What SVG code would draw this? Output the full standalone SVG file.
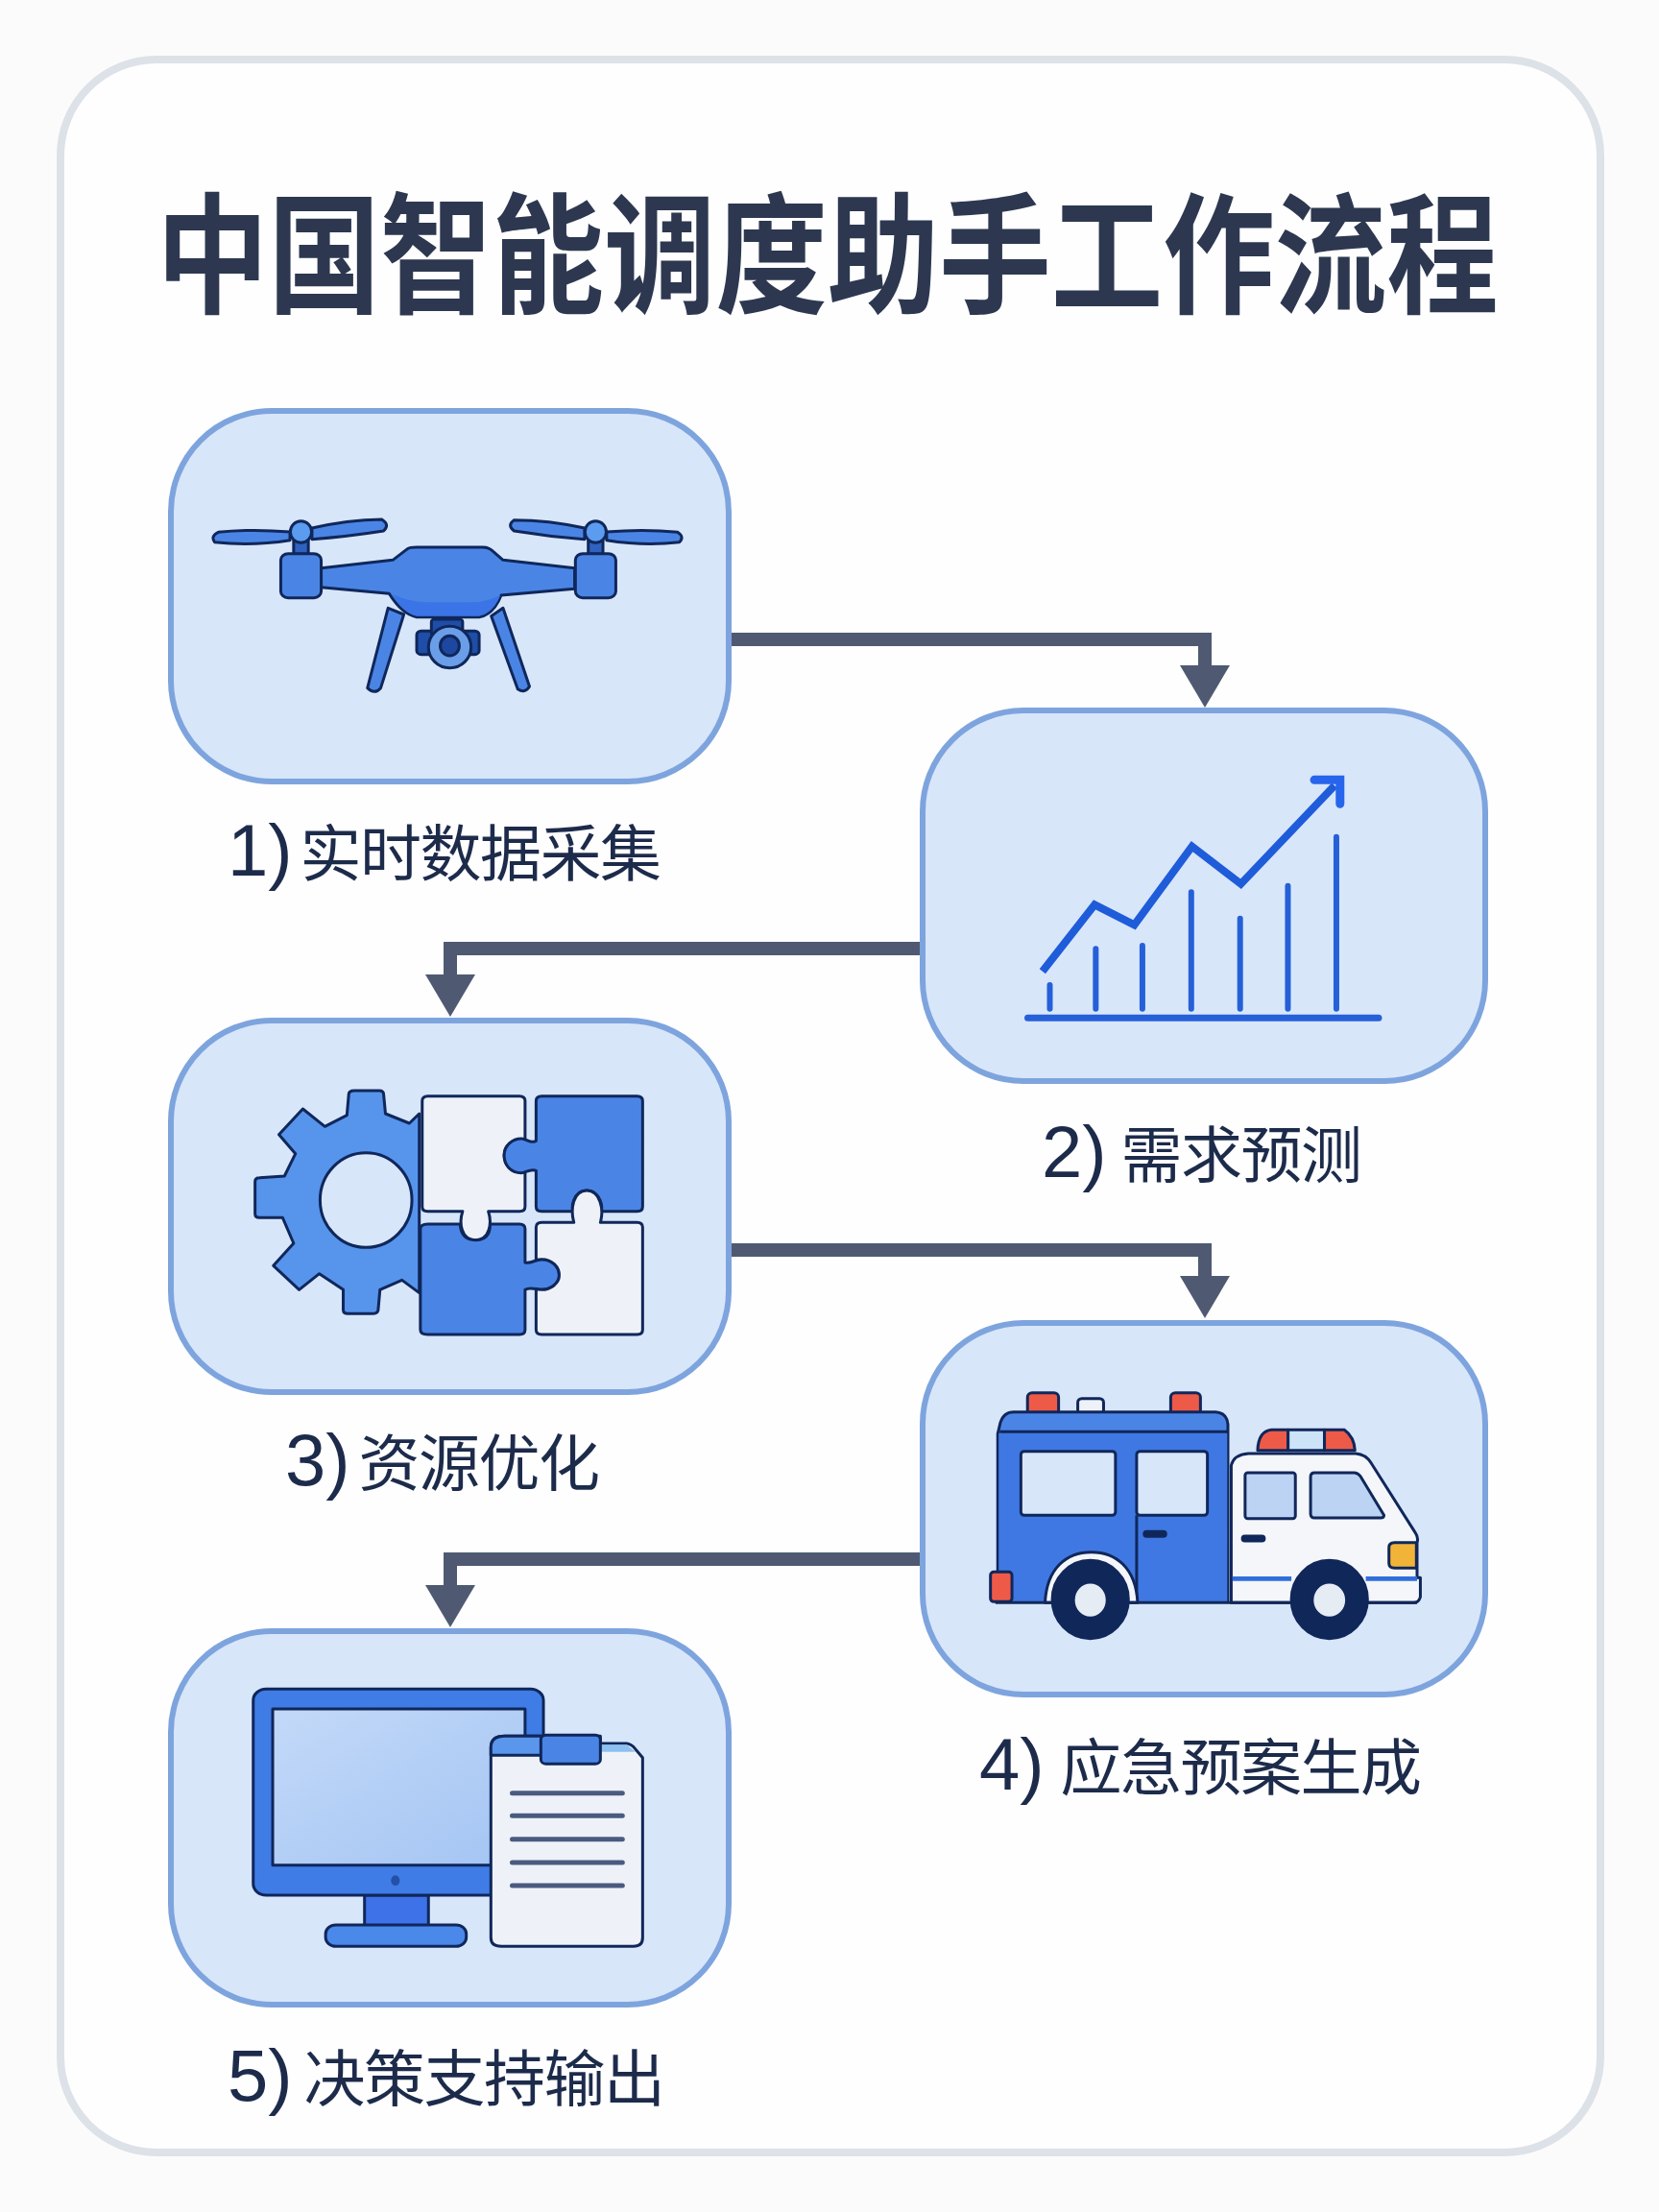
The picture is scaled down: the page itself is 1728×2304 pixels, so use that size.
<svg xmlns="http://www.w3.org/2000/svg" width="1728" height="2304" viewBox="0 0 1728 2304">
<defs>
<marker id="head" markerUnits="userSpaceOnUse" markerWidth="46" markerHeight="54" refX="1" refY="27" orient="auto"><path d="M0 1 L44 27 L0 53 Z" fill="#4f5a72"/></marker>
<linearGradient id="screen" x1="0" y1="0" x2="1" y2="1"><stop offset="0" stop-color="#c3d9f8"/><stop offset="1" stop-color="#a3c4f3"/></linearGradient>
</defs>
<style>
.card{fill:#d8e6fa;stroke:#7ea4de;stroke-width:6}
.title{font-family:"Noto Sans CJK SC","Noto Sans",sans-serif;font-weight:700;font-size:136px;fill:#2d3850}
.lab{font-family:"Noto Sans CJK SC","Noto Sans",sans-serif;font-size:64px;letter-spacing:-1.5px;fill:#1d2b4b}
.num{font-family:"Liberation Sans","Noto Sans",sans-serif;font-size:76px;letter-spacing:0}
.conn{fill:none;stroke:#4f5a72;stroke-width:14;marker-end:url(#head)}
.i *{vector-effect:non-scaling-stroke;stroke:#10275a;stroke-width:3;stroke-linejoin:round}
.b{fill:#4a85e6}.w{fill:#eef2f8}.r{fill:#ee5a48}.d{fill:#10275a}.h{fill:#d8e6fa}
.i .n{stroke:none}
.i .bar{fill:none;stroke:#2560d8;stroke-width:6;stroke-linecap:round}
.i .ln{fill:none;stroke:#4a5a80;stroke-width:5;stroke-linecap:round}
</style>
<rect width="1728" height="2304" fill="#fbfbfb"/>
<rect id="frame" x="63" y="62" width="1604" height="2180" rx="100" fill="#fefeff" stroke="#dde1e8" stroke-width="8"/>
<text class="title" transform="translate(163 316) scale(.8565 1)">中国智能调度助手工作流程</text>

<g id="connectors">
<path class="conn" d="M761 666H1255V694"/>
<path class="conn" d="M961 988H469V1016"/>
<path class="conn" d="M761 1302H1255V1330"/>
<path class="conn" d="M961 1624H469V1652"/>
</g>

<g id="n1">
<rect class="card" x="178" y="428" width="581" height="386" rx="105"/>
<g class="i" transform="translate(170 420) scale(.38265 .33333)">
<path class="b" d="M612 640L655 660L592 890Q575 912 556 890Z"/>
<path class="b" d="M893 665L925 640L997 885Q985 908 965 893Z"/>
<rect x="690" y="712" width="170" height="73" rx="12" fill="#1e4ea8"/>
<rect x="730" y="675" width="85" height="50" rx="8" fill="#1e4ea8"/>
<ellipse cx="780" cy="762" rx="58" ry="65" fill="#6a9ee8"/>
<ellipse cx="780" cy="758" rx="26" ry="31" fill="#1d47a0"/>
<path class="b" d="M625 490L665 455Q670 450 690 450H870Q885 450 895 460L925 490L1120 515V580L920 600Q900 660 860 668H690Q650 660 615 595L430 575V515Z"/>
<path class="n" fill="#3a74e6" d="M625 597Q670 622 720 622H840Q880 622 918 600Q898 656 860 665H690Q652 656 625 597Z"/>
<rect x="355" y="430" width="40" height="42" fill="#2f62c0"/>
<rect x="1157" y="430" width="40" height="42" fill="#2f62c0"/>
<rect class="b" x="320" y="470" width="110" height="138" rx="20"/>
<rect class="b" x="1122" y="470" width="110" height="138" rx="20"/>
<path class="b" d="M345 402Q240 392 150 403Q128 415 140 434Q240 447 345 428Z"/>
<path class="b" d="M405 390Q500 365 595 363Q618 380 600 399Q500 417 405 425Z"/>
<path class="b" d="M1147 390Q1050 365 955 365Q935 382 955 399Q1050 417 1147 425Z"/>
<path class="b" d="M1207 402Q1310 392 1400 403Q1420 418 1405 434Q1310 447 1207 428Z"/>
<ellipse cx="375" cy="402" rx="29" ry="34" fill="#5b9bf0"/>
<ellipse cx="1177" cy="402" rx="29" ry="34" fill="#5b9bf0"/>
</g>
<text class="lab" y="912"><tspan class="num" x="237">1)</tspan><tspan dx="-5"> 实时数据采集</tspan></text>
</g>

<g id="n2">
<rect class="card" x="961" y="740" width="586" height="386" rx="105"/>
<g class="i" transform="translate(950 730) scale(.38265 .33333)">
<path class="bar" d="M375 888V962M500 775V962M627 765V962M760 598V962M893 680V962M1023 578V962M1155 425V962"/>
<path class="bar" style="stroke-width:7" d="M315 991H1270"/>
<path class="bar" style="stroke-width:8;stroke-linecap:butt;stroke-linejoin:miter;stroke:#1f5cd9" d="M355 845L497 637L605 700L762 455L895 572L1150 265"/>
<path class="bar" style="stroke-width:9;stroke:#2665ec;stroke-linejoin:miter" d="M1095 247H1165V322"/>
</g>
<text class="lab" y="1226"><tspan class="num" x="1085">2)</tspan><tspan dx="2"> 需求预测</tspan></text>
</g>

<g id="n3">
<rect class="card" x="178" y="1063" width="581" height="387" rx="105"/>
<g class="i" transform="translate(170 1060) scale(.38265 .33333)">
<path fill="#5794ec" d="M505 240Q505 228 520 228H588Q600 228 600 240L605 300L670 330L697 300V860L650 820L590 850L585 915Q582 925 570 925H503Q490 925 490 913V850L425 800L370 850L300 775L355 705L325 625H262Q250 625 250 613V512Q250 500 262 500L330 495L360 425L315 365L380 285L440 340L500 305Z"/>
<ellipse class="h" cx="552" cy="570" rx="125" ry="148"/>
<path class="w" d="M720 245H970Q985 245 985 260V382C950 378 928 400 928 430C928 460 945 485 985 483V590Q985 605 970 605H885C895 640 890 695 850 695C810 695 805 640 815 605H720Q705 605 705 590V260Q705 245 720 245Z"/>
<path class="b" d="M1030 245H1290Q1305 245 1305 260V590Q1305 605 1290 605H1190C1200 600 1190 540 1153 540C1115 540 1108 600 1118 605H1030Q1015 605 1015 590V478C1000 470 985 485 975 485C945 485 928 460 928 430C928 400 950 378 975 378C990 378 1000 395 1015 385V260Q1015 245 1030 245Z"/>
<path class="b" d="M720 645H808C810 680 825 695 850 695C875 695 890 680 890 645H970Q985 645 985 660V765C1000 770 1015 755 1030 755C1060 755 1078 780 1078 805C1078 830 1055 850 1030 850C1015 850 1000 840 985 850V975Q985 990 970 990H720Q700 990 700 975V660Q700 645 720 645Z"/>
<path class="w" d="M1030 640H1118C1108 600 1115 540 1153 540C1190 540 1200 600 1190 640H1290Q1305 640 1305 655V975Q1305 990 1290 990H1030Q1015 990 1015 975V848C1020 850 1025 850 1030 850C1055 850 1078 830 1078 805C1078 780 1060 755 1030 755C1025 755 1020 756 1015 758V655Q1015 640 1030 640Z"/>
</g>
<text class="lab" y="1547"><tspan class="num" x="297">3)</tspan><tspan dx="-4"> 资源优化</tspan></text>
</g>

<g id="n4">
<rect class="card" x="961" y="1378" width="586" height="387" rx="105"/>
<g class="i" transform="translate(980 1400) scale(.34444 .33333)">
<rect class="r" x="262" y="152" width="94" height="70" rx="14"/>
<rect class="r" x="695" y="152" width="90" height="70" rx="14"/>
<rect class="w" x="414" y="170" width="78" height="50" rx="12"/>
<path class="b" d="M172 805V280L180 245Q190 212 220 212H830Q865 215 868 250V805Z"/>
<path class="n" fill="#3f78e2" d="M175 278H866V805H175Z"/>
<path d="M178 274H866" fill="none"/>
<rect class="h" x="242" y="335" width="286" height="200" rx="10"/>
<rect class="h" x="592" y="335" width="214" height="200" rx="10"/>
<path d="M592 535V805" fill="none"/>
<rect class="d" x="615" y="586" width="65" height="15" rx="7"/>
<rect class="r" x="150" y="712" width="65" height="93" rx="10"/>
<path fill="#f4f6fa" d="M315 808C320 700 380 650 455 650C530 650 590 700 595 808Z"/>
<path fill="#f4f6fa" d="M878 808V380Q885 345 930 342H1255Q1285 345 1300 370L1435 590Q1445 605 1440 620V730H1450V790Q1445 808 1430 808Z"/>
<path class="n" fill="#2f6fdc" d="M882 726H1060V740H882ZM1285 726H1440V740H1285Z"/>
<rect x="920" y="402" width="152" height="143" rx="8" fill="#bcd3f3"/>
<path fill="#bcd3f3" d="M1118 415Q1118 402 1130 402H1250Q1260 402 1268 412L1340 535Q1340 543 1330 543H1130Q1118 543 1118 530Z"/>
<rect class="d" x="912" y="600" width="66" height="15" rx="7"/>
<path class="r" d="M958 332Q960 272 1000 268H1050V332Z"/>
<rect x="1050" y="268" width="110" height="64" fill="#cde3f8"/>
<path class="r" d="M1160 268H1220Q1250 290 1252 332H1160Z"/>
<path fill="#f2b438" d="M1372 620H1438V700H1372Q1355 700 1355 685V635Q1355 620 1372 620Z"/>
<path d="M165 808H1440" fill="none"/>
<ellipse class="d" cx="452" cy="798" rx="115" ry="122"/>
<ellipse cx="452" cy="800" rx="51" ry="56" fill="#e6ecf4"/>
<ellipse class="d" cx="1175" cy="798" rx="115" ry="122"/>
<ellipse cx="1175" cy="800" rx="52" ry="56" fill="#e6ecf4"/>
</g>
<text class="lab" y="1864"><tspan class="num" x="1020">4)</tspan><tspan dx="4"> 应急预案生成</tspan></text>
</g>

<g id="n5">
<rect class="card" x="178" y="1699" width="581" height="389" rx="105"/>
<g class="i" transform="translate(170 1700) scale(.38265 .33333)">
<rect x="548" y="822" width="174" height="95" fill="#3e72e8"/>
<rect x="442" y="915" width="383" height="67" rx="28" fill="#4a88ea"/>
<rect x="245" y="178" width="790" height="644" rx="35" fill="#3f7ce6"/>
<rect x="298" y="240" width="687" height="488" fill="url(#screen)"/>
<ellipse class="n" cx="632" cy="776" rx="12" ry="16" fill="#2450a8"/>
<path class="w" d="M892 360Q892 325 930 325H1190V348H1262Q1275 350 1285 365L1305 392V955Q1305 982 1280 982H920Q892 982 892 955Z"/>
<path fill="#5a96ec" d="M892 385V360Q892 325 930 325H1030V385Z"/>
<path class="n" fill="#8dc0f0" d="M1190 352H1262L1285 374H1190Z"/>
<rect class="b" x="1028" y="322" width="162" height="90" rx="14"/>
<path class="ln" d="M950 503H1250M950 574H1250M950 647H1250M950 720H1250M950 792H1250"/>
</g>
<text class="lab" y="2188"><tspan class="num" x="237">5)</tspan><tspan dx="-1"> 决策支持输出</tspan></text>
</g>
</svg>
